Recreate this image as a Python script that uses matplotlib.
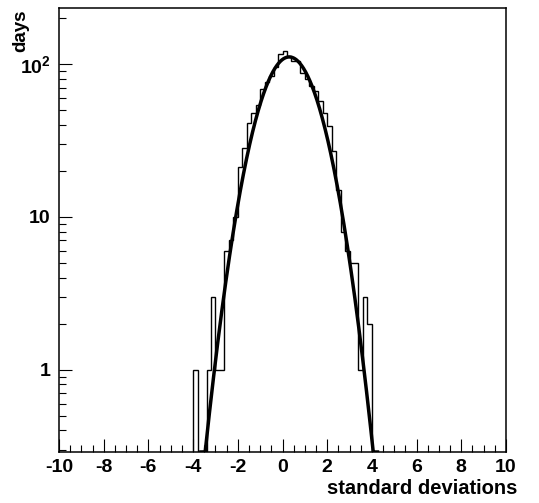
import numpy as np
import matplotlib
matplotlib.use('Agg')
import matplotlib.pyplot as plt
from matplotlib.ticker import MultipleLocator, LogLocator, FixedLocator, NullFormatter

plt.rcParams['font.family'] = ['Liberation Sans', 'DejaVu Sans']
plt.rcParams['font.weight'] = 'bold'
plt.rcParams['axes.unicode_minus'] = False
plt.rcParams['mathtext.fontset'] = 'custom'
plt.rcParams['mathtext.bf'] = 'Liberation Sans:bold'
plt.rcParams['mathtext.rm'] = 'Liberation Sans:bold'

# histogram: bins of 0.2 from -4 to 4 (everything else is empty)
bin_start = -4.0
bin_width = 0.2
counts = [1, 0, 0, 1, 3, 1, 1, 6, 7, 10,
          21, 28, 41, 48, 54, 68, 76, 83, 95, 116,
          122, 113, 105, 104, 87, 80, 72, 66, 57, 48,
          39, 27, 15, 8, 6, 5, 5, 1, 3, 2]

# gaussian fit
fit_amp = 111.0
fit_mean = 0.30
fit_sigma = 1.09
fit_range = (-3.65, 4.25)

y_min, y_max = 0.289, 232
y_ticks = [1, 10, 100]
y_ticklabels = ['1', '10', r'$\mathbf{10^{2}}$']
x_ticks = list(range(-10, 11, 2))

edges = bin_start + bin_width * np.arange(len(counts) + 1)
counts = np.array(counts, dtype=float)

fig = plt.figure(figsize=(5.39, 5.03), dpi=100)
ax = fig.add_axes([59 / 539, 1 - 452 / 503, 447 / 539, 444 / 503])

ax.stairs(np.where(counts > 0, counts, 1e-3), edges, color='black', lw=1.0)

xf = np.linspace(fit_range[0], fit_range[1], 500)
yf = fit_amp * np.exp(-0.5 * ((xf - fit_mean) / fit_sigma) ** 2)
ax.plot(xf, np.maximum(yf, y_min), color='black', lw=2.5)

ax.set_yscale('log')
ax.set_xlim(-10, 10)
ax.set_ylim(y_min, y_max)

ax.xaxis.set_major_locator(FixedLocator(x_ticks))
ax.xaxis.set_minor_locator(MultipleLocator(0.5))
ax.yaxis.set_major_locator(FixedLocator(y_ticks))
ax.set_yticklabels(y_ticklabels)
ax.yaxis.set_minor_locator(LogLocator(subs=np.arange(2, 10)))
ax.yaxis.set_minor_formatter(NullFormatter())

ax.tick_params(which='both', direction='in', top=False, right=False, labelsize=14, width=0.8)
ax.tick_params(which='major', length=9.5)
ax.tick_params(which='minor', length=5)
ax.tick_params(axis='x', pad=5)
ax.tick_params(axis='y', pad=6)
for s in ax.spines.values():
    s.set_linewidth(1.1)

fig.text(517 / 539, 1 - 489 / 503, 'standard deviations', ha='right', va='center',
         fontsize=14.5, fontweight='bold')
fig.text(21 / 539, 1 - 9 / 503, 'days', rotation=90, ha='center', va='top',
         fontsize=13.5, fontweight='bold')

fig.savefig('out.png', dpi=100)
